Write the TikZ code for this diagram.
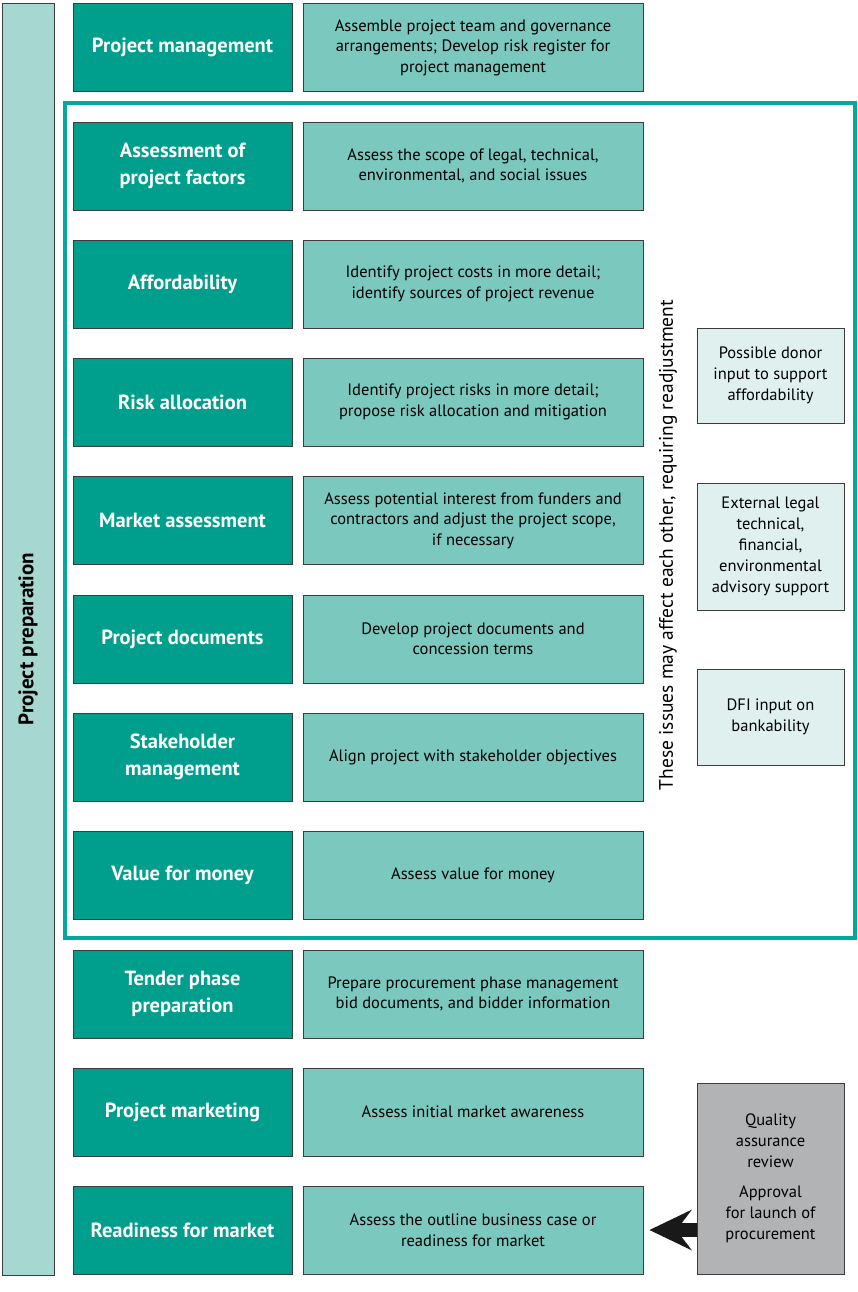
\documentclass[tikz,border=0pt]{standalone}
\usepackage{fontspec}
\setmainfont{PT Sans}
\usetikzlibrary{arrows.meta}
\definecolor{dteal}{RGB}{0,158,140}
\definecolor{mteal}{RGB}{122,200,190}
\definecolor{lteal}{RGB}{166,216,209}
\definecolor{pteal}{RGB}{224,240,238}
\definecolor{fteal}{RGB}{0,169,157}
\definecolor{qgray}{RGB}{178,179,181}
\definecolor{edge}{RGB}{60,60,60}
\tikzset{
  base/.style={draw=edge, line width=0.8pt, inner sep=2pt, align=center, anchor=center},
  headbox/.style={base, fill=dteal, text=white, minimum width=219pt, minimum height=88pt, font=\fontsize{20.5}{27}\selectfont\bfseries},
  taskbox/.style={base, fill=mteal, text=black, minimum width=340pt, minimum height=88pt, font=\fontsize{16.5}{20.5}\selectfont},
  sidebox/.style={base, fill=pteal, text=black, minimum width=147pt, font=\fontsize{16.5}{21}\selectfont},
  qbox/.style={base, fill=qgray, text=black, minimum width=147pt, minimum height=191pt, font=\fontsize{16.5}{21}\selectfont},
}
\begin{document}
\begin{tikzpicture}[x=1pt,y=-1pt]
\useasboundingbox (0,0) rectangle (857,1292);
% left bar
\node[base, fill=lteal, minimum width=52pt, minimum height=1272pt] (bar) at (28,639) {};
\node[rotate=90, font=\fontsize{21}{24}\selectfont\bfseries] (barlab) at (bar.center) {Project preparation};
% frame
\node[draw=fteal, line width=4pt, minimum width=790pt, minimum height=835pt, inner sep=0pt] (frame) at (460,520.5) {};
% rows
\foreach \n/\y/\a/\b in {
 pm/47.5/{Project management}/{Assemble project team and governance\\arrangements; Develop risk register for\\project management},
 apf/166/{Assessment of\\project factors}/{Assess the scope of legal, technical,\\environmental, and social issues},
 aff/284/{Affordability}/{Identify project costs in more detail;\\identify sources of project revenue},
 ra/402/{Risk allocation}/{Identify project risks in more detail;\\propose risk allocation and mitigation},
 ma/520.5/{Market assessment}/{Assess potential interest from funders and\\contractors and adjust the project scope,\\if necessary},
 pd/639/{Project documents}/{Develop project documents and\\concession terms},
 sm/757/{Stakeholder\\management}/{Align project with stakeholder objectives},
 vfm/875/{Value for money}/{Assess value for money},
 tp/994/{Tender phase\\preparation}/{Prepare procurement phase management\\bid documents, and bidder information},
 mk/1112/{Project marketing}/{Assess initial market awareness},
 rm/1230/{Readiness for market}/{Assess the outline business case or\\readiness for market}}
{
 \node[headbox] (\n-h) at (182.5,\y) {\a};
 \node[taskbox] (\n-t) at (473,\y) {\b};
}
% rotated note
\node[rotate=90, font=\fontsize{19.5}{22}\selectfont] (note) at (668,545) {These issues may affect each other, requiring readjustment};
% side boxes
\node[sidebox, minimum height=95pt] (donor) at (770.5,375.5) {Possible donor\\input to support\\affordability};
\node[sidebox, minimum height=127pt] (ext) at (770.5,546.5) {External legal\\technical,\\financial,\\environmental\\advisory support};
\node[sidebox, minimum height=96pt] (dfi) at (770.5,717) {DFI input on\\bankability};
\node[qbox] (qa) at (770.5,1178.5) {Quality\\assurance\\review\\[9pt]Approval\\for launch of\\procurement};
% arrow
\draw[line width=14pt, black!90, -{Stealth[length=42pt,width=40pt,inset=15pt]}, shorten >=6pt] (qa.west |- rm-t.east) -- (rm-t.east);
\end{tikzpicture}
\end{document}
